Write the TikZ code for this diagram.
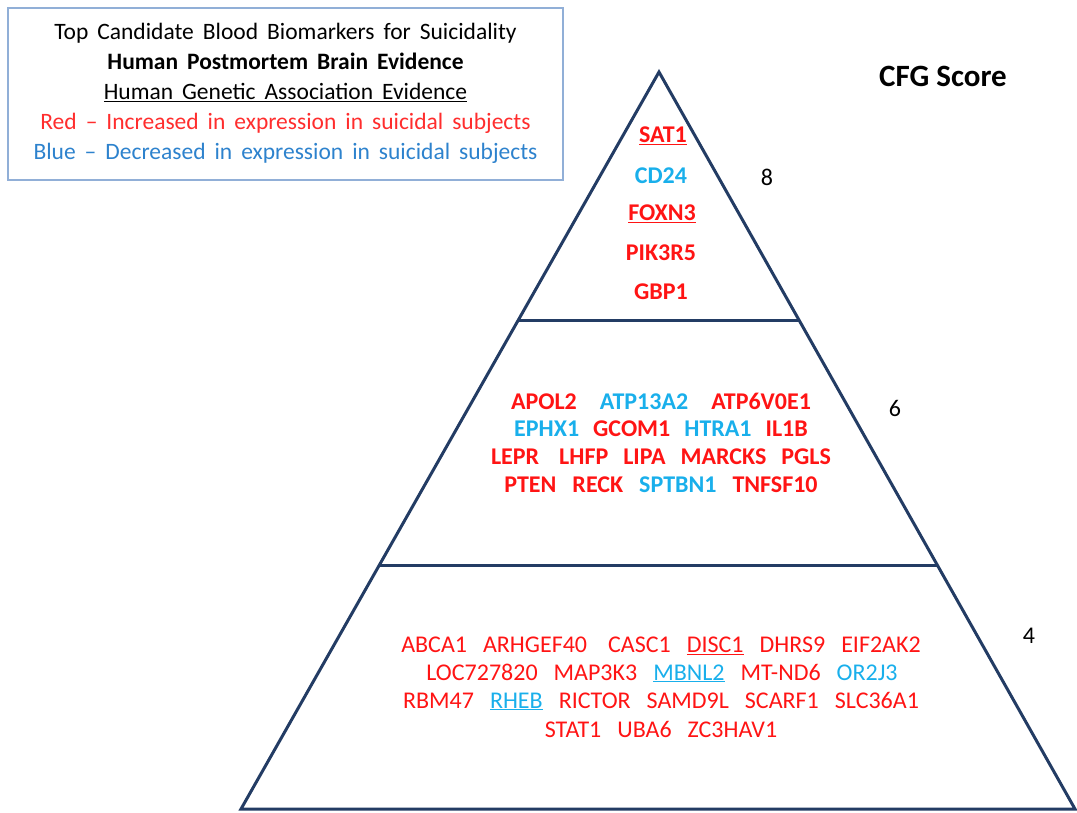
\documentclass[tikz,border=0pt]{standalone}
\usepackage{fontspec}
\setmainfont{Carlito}
\usetikzlibrary{calc}

\definecolor{upred}{RGB}{255,20,20}
\definecolor{downblue}{RGB}{25,175,235}
\definecolor{legred}{RGB}{255,45,45}
\definecolor{legblue}{RGB}{45,130,205}
\definecolor{pyrline}{RGB}{35,60,100}
\definecolor{boxline}{RGB}{145,175,215}

\newcommand{\genup}[1]{\textcolor{upred}{#1}}
\newcommand{\genedown}[1]{\textcolor{downblue}{#1}}
\newcommand{\gap}{\hspace{16pt}}
\newcommand{\legendfont}{\fontsize{23.5}{30}\selectfont\spaceskip=9pt\relax}

\begin{document}
\begin{tikzpicture}[x=1pt,y=-1pt]
	\tikzstyle{every node}=[inner sep=0pt]
	\tikzstyle{gene}=[font=\fontsize{24}{28}\selectfont\bfseries]
	\tikzstyle{geneplain}=[font=\fontsize{24}{28}\selectfont]
	\tikzstyle{score}=[font=\fontsize{24}{28}\selectfont]
	\tikzstyle{tier}=[draw=pyrline,line width=3pt]
	\useasboundingbox (0,0) rectangle (1077,813);
	
	\node[draw=boxline,line width=1.2pt,minimum width=555pt,minimum height=172pt,
		align=center,font=\legendfont] (legend) at (285.5,94)
		{Top Candidate Blood Biomarkers for Suicidality\\
		\textbf{Human Postmortem Brain Evidence}\\
		\underline{Human Genetic Association Evidence}\\
		\textcolor{legred}{Red -- Increased in expression in suicidal subjects}\\
		\textcolor{legblue}{Blue -- Decreased in expression in suicidal subjects}\rule[-6pt]{0pt}{0pt}};
	
	\coordinate (apex) at (659,72);
	\coordinate (baseL) at (241,809);
	\coordinate (baseR) at (1075,809);
	\coordinate (midL) at ($(apex)!0.3365!(baseL)$);
	\coordinate (midR) at ($(apex)!0.3365!(baseR)$);
	\coordinate (lowL) at ($(apex)!0.669!(baseL)$);
	\coordinate (lowR) at ($(apex)!0.669!(baseR)$);
	\draw[tier,line join=miter] (apex) -- (baseR) -- (baseL) -- cycle;
	\draw[tier] (midL) -- (midR);
	\draw[tier] (lowL) -- (lowR);
	
	\node[font=\fontsize{31}{34}\selectfont\bfseries] (cfg) at (943,76) {CFG Score};
	\node[score] (s8) at (767,177) {8};
	\node[score] (s6) at (895,408) {6};
	\node[score] (s4) at (1029,636) {4};
	
	\node[gene,text=upred] (sat) at (663,136) {\underline{SAT1}};
	\node[gene,text=downblue] (cd) at (661,176) {CD24};
	\node[gene,text=upred] (foxn) at (662,214) {\underline{FOXN3}};
	\node[gene,text=upred] (pik) at (661,253) {PIK3R5};
	\node[gene,text=upred] (gbp) at (661,292) {GBP1};
	
	\node[gene] (mid1) at (661,401) {\genup{APOL2}\hspace{23pt}\genedown{ATP13A2}\hspace{23pt}\genup{ATP6V0E1}};
	\node[gene] (mid2) at (661,429) {\genedown{EPHX1}\hspace{14pt}\genup{GCOM1}\hspace{14pt}\genedown{HTRA1}\hspace{14pt}\genup{IL1B}};
	\node[gene] (mid3) at (661,457) {\genup{LEPR}\hspace{20pt}\genup{LHFP}\hspace{15pt}\genup{LIPA}\hspace{15pt}\genup{MARCKS}\hspace{15pt}\genup{PGLS}};
	\node[gene] (mid4) at (661,485) {\genup{PTEN}\gap\genup{RECK}\gap\genedown{SPTBN1}\gap\genup{TNFSF10}};
	
	\node[geneplain] (low1) at (661,646) {\genup{ABCA1}\gap\genup{ARHGEF40}\hspace{21pt}\genup{CASC1}\gap\genup{\underline{DISC1}}\gap\genup{DHRS9}\gap\genup{EIF2AK2}};
	\node[geneplain] (low2) at (662,673) {\genup{LOC727820}\gap\genup{MAP3K3}\gap\genedown{\underline{MBNL2}}\gap\genup{MT-ND6}\gap\genedown{OR2J3}};
	\node[geneplain] (low3) at (661,701) {\genup{RBM47}\gap\genedown{\underline{RHEB}}\gap\genup{RICTOR}\gap\genup{SAMD9L}\gap\genup{SCARF1}\gap\genup{SLC36A1}};
	\node[geneplain] (low4) at (661,729) {\genup{STAT1}\gap\genup{UBA6}\gap\genup{ZC3HAV1}};
	
\end{tikzpicture}
\end{document}
